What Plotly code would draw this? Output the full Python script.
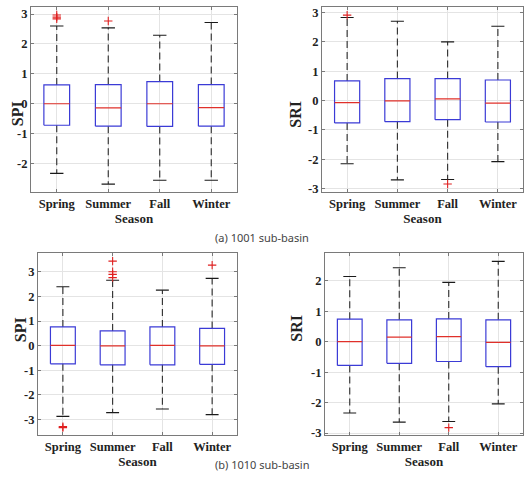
import plotly.graph_objects as go

seasons = ["Spring", "Summer", "Fall", "Winter"]

# (a) 1001 sub-basin, SPI
spi_1001_low = [-2.33, -2.69, -2.56, -2.56]
spi_1001_q1 = [-0.72, -0.75, -0.76, -0.75]
spi_1001_med = [0.0, -0.14, 0.0, -0.13]
spi_1001_q3 = [0.63, 0.64, 0.74, 0.64]
spi_1001_high = [2.60, 2.54, 2.29, 2.72]
spi_1001_out = [[2.97, 2.90, 2.84], [2.77], [], []]

# (a) 1001 sub-basin, SRI
sri_1001_low = [-2.15, -2.70, -2.69, -2.08]
sri_1001_q1 = [-0.76, -0.72, -0.65, -0.73]
sri_1001_med = [-0.07, -0.01, 0.06, -0.09]
sri_1001_q3 = [0.67, 0.75, 0.75, 0.70]
sri_1001_high = [2.83, 2.70, 2.00, 2.53]
sri_1001_out = [[2.91], [], [-2.84], []]

# (b) 1010 sub-basin, SPI
spi_1010_low = [-2.88, -2.73, -2.58, -2.81]
spi_1010_q1 = [-0.74, -0.78, -0.78, -0.76]
spi_1010_med = [0.01, -0.01, 0.01, -0.01]
spi_1010_q3 = [0.76, 0.60, 0.76, 0.70]
spi_1010_high = [2.40, 2.66, 2.26, 2.74]
spi_1010_out = [[-3.30, -3.34], [3.44, 3.01, 2.90, 2.77], [], [3.28]]

# (b) 1010 sub-basin, SRI
sri_1010_low = [-2.34, -2.64, -2.62, -2.04]
sri_1010_q1 = [-0.78, -0.71, -0.65, -0.82]
sri_1010_med = [0.0, 0.15, 0.17, -0.02]
sri_1010_q3 = [0.74, 0.72, 0.75, 0.72]
sri_1010_high = [2.14, 2.43, 1.95, 2.64]
sri_1010_out = [[], [], [-2.82], []]

W, H = 526, 479

panels = [
    dict(name="SPI", low=spi_1001_low, q1=spi_1001_q1, med=spi_1001_med, q3=spi_1001_q3,
         high=spi_1001_high, out=spi_1001_out, px=(31, 237), py=(6, 193), yr=[-2.94, 3.24],
         tv=[-2, -1, 0, 1, 2, 3], titx=7),
    dict(name="SRI", low=sri_1001_low, q1=sri_1001_q1, med=sri_1001_med, q3=sri_1001_q3,
         high=sri_1001_high, out=sri_1001_out, px=(322, 523), py=(6, 193), yr=[-3.1, 3.19],
         tv=[-3, -2, -1, 0, 1, 2, 3], titx=296),
    dict(name="SPI", low=spi_1010_low, q1=spi_1010_q1, med=spi_1010_med, q3=spi_1010_q3,
         high=spi_1010_high, out=spi_1010_out, px=(38, 237), py=(255, 440), yr=[-3.66, 3.78],
         tv=[-3, -2, -1, 0, 1, 2, 3], titx=10),
    dict(name="SRI", low=sri_1010_low, q1=sri_1010_q1, med=sri_1010_med, q3=sri_1010_q3,
         high=sri_1010_high, out=sri_1010_out, px=(325, 523), py=(255, 440), yr=[-3.08, 2.92],
         tv=[-3, -2, -1, 0, 1, 2], titx=297),
]

fig = go.Figure()
serif = "Liberation Serif, Times New Roman, serif"
BOXW = 0.25
CAPW = 0.13

for k, p in enumerate(panels):
    sfx = "" if k == 0 else str(k + 1)
    xa, ya = "x" + sfx, "y" + sfx
    bx, by, mx, my, wx, wy, cx, cy, ox, oy = ([] for _ in range(10))
    for i in range(4):
        c = i + 1
        bx += [c - BOXW, c + BOXW, c + BOXW, c - BOXW, c - BOXW, None]
        by += [p["q1"][i], p["q1"][i], p["q3"][i], p["q3"][i], p["q1"][i], None]
        mx += [c - BOXW, c + BOXW, None]
        my += [p["med"][i], p["med"][i], None]
        wx += [c, c, None, c, c, None]
        wy += [p["q3"][i], p["high"][i], None, p["q1"][i], p["low"][i], None]
        cx += [c - CAPW, c + CAPW, None, c - CAPW, c + CAPW, None]
        cy += [p["high"][i], p["high"][i], None, p["low"][i], p["low"][i], None]
        for v in p["out"][i]:
            ox.append(c)
            oy.append(v)
    common = dict(xaxis=xa, yaxis=ya, showlegend=False, hoverinfo="skip")
    fig.add_trace(go.Scatter(x=wx, y=wy, mode="lines",
                             line=dict(color="#2a2a2a", width=1.1, dash="7px,4px"), **common))
    fig.add_trace(go.Scatter(x=cx, y=cy, mode="lines",
                             line=dict(color="#1a1a1a", width=1.1), **common))
    fig.add_trace(go.Scatter(x=bx, y=by, mode="lines",
                             line=dict(color="#3b3bd6", width=1.2), **common))
    fig.add_trace(go.Scatter(x=mx, y=my, mode="lines",
                             line=dict(color="#e0302a", width=1.2), **common))
    fig.add_trace(go.Scatter(x=ox, y=oy, mode="markers",
                             marker=dict(symbol="cross-thin", size=6,
                                         line=dict(color="#e02020", width=1.1)), **common))

    x0, x1 = p["px"][0] / W, p["px"][1] / W
    y0, y1 = 1 - p["py"][1] / H, 1 - p["py"][0] / H
    axcommon = dict(showline=True, linecolor="#7a7a7a", linewidth=1, mirror="ticks",
                    ticks="inside", ticklen=3, tickcolor="#7a7a7a",
                    showgrid=True, gridcolor="#e4e4e4", gridwidth=1, zeroline=False,
                    tickfont=dict(family=serif, size=12.5, color="#222"))
    fig.layout["xaxis" + sfx] = dict(domain=[x0, x1], range=[0.5, 4.5], anchor=ya,
                                     tickvals=[1, 2, 3, 4],
                                     ticktext=["<b>%s</b>" % s for s in seasons],
                                     title=dict(text="<b>Season</b>", standoff=3,
                                                font=dict(family=serif, size=13, color="#222")),
                                     **axcommon)
    fig.layout["yaxis" + sfx] = dict(domain=[y0, y1], range=p["yr"], anchor=xa,
                                     tickvals=p["tv"], ticktext=["<b>%d</b>" % v for v in p["tv"]],
                                     **axcommon)
    fig.add_annotation(text="<b>%s</b>" % p["name"], textangle=-90, xref="paper", yref="paper",
                       x=p["titx"] / W, y=(y0 + y1) / 2, showarrow=False,
                       font=dict(family=serif, size=16, color="#222"))

fig.add_annotation(text="(a) 1001 sub-basin", xref="paper", yref="paper",
                   x=262 / W, y=1 - 240 / H, showarrow=False,
                   font=dict(family="Noto Sans", size=11, color="#444"))
fig.add_annotation(text="(b) 1010 sub-basin", xref="paper", yref="paper",
                   x=262 / W, y=0, yanchor="bottom", showarrow=False,
                   font=dict(family="Noto Sans", size=11, color="#444"))

fig.update_layout(width=W, height=H, margin=dict(l=0, r=0, t=0, b=0),
                  paper_bgcolor="white", plot_bgcolor="white")
fig.write_html("out.html")
